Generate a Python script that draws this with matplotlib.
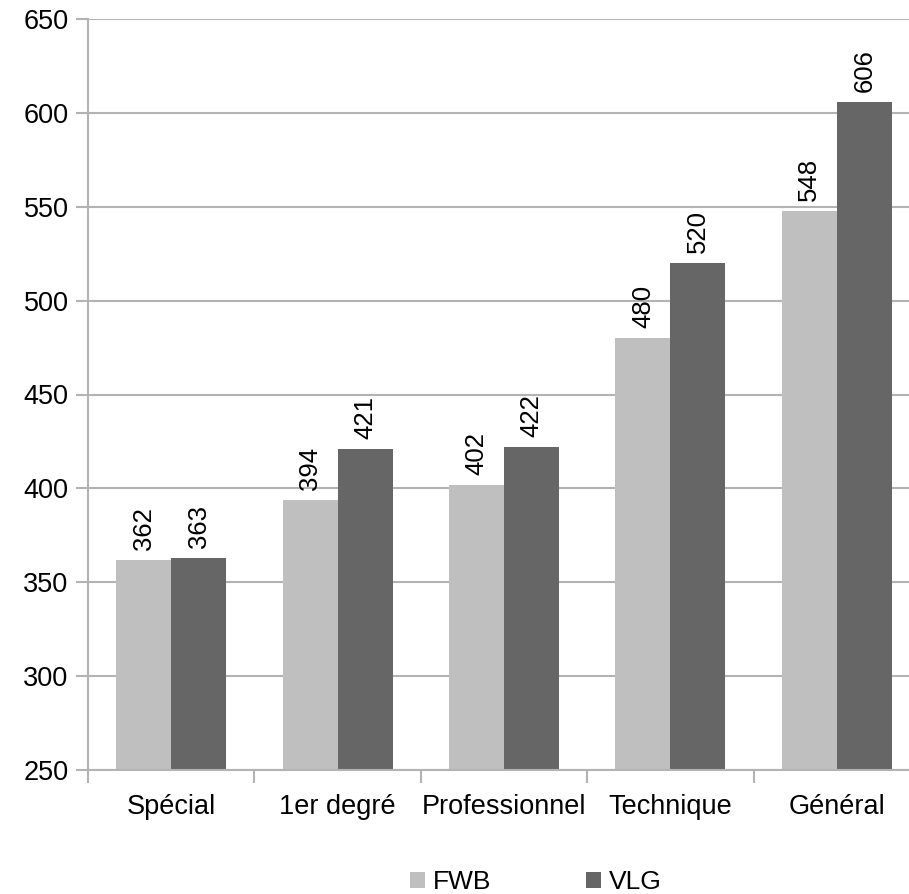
import numpy as np
import matplotlib.pyplot as plt

plt.rcParams['font.family'] = ['Liberation Sans', 'DejaVu Sans']

categories = ['Spécial', '1er degré', 'Professionnel', 'Technique', 'Général']
fwb = [362, 394, 402, 480, 548]
vlg = [363, 421, 422, 520, 606]
yticks = [250, 300, 350, 400, 450, 500, 550, 600, 650]

grid_col = '#b3b3b3'
fig = plt.figure(figsize=(9.09, 8.94), dpi=100)
ax = fig.add_axes([88 / 909, 124 / 894, 832 / 909, 751 / 894])

x = np.arange(len(categories)) + 0.5
w = 0.33
b1 = ax.bar(x - w / 2, [v - 250 for v in fwb], w, bottom=250, color='#bfbfbf', label='FWB', zorder=2)
b2 = ax.bar(x + w / 2, [v - 250 for v in vlg], w, bottom=250, color='#666666', label='VLG', zorder=2)

for xs, vals in ((x - w / 2, fwb), (x + w / 2, vlg)):
    for xi, v in zip(xs, vals):
        ax.annotate(str(v), (xi, v), xytext=(0, 7), textcoords='offset points',
                    rotation=90, ha='center', va='bottom', fontsize=18.5)

ax.set_xlim(0, len(categories))
ax.set_ylim(250, 650)
ax.set_yticks(yticks)
ax.tick_params(axis='y', labelsize=19.5, length=9, width=1.5, color=grid_col, pad=5)
ax.yaxis.grid(True, color=grid_col, linewidth=1.5, zorder=0)
ax.set_axisbelow(True)

# category ticks sit between groups, labels centred underneath
ax.set_xticks(np.arange(len(categories) + 1))
ax.set_xticklabels([])
ax.set_xticks(x, minor=True)
ax.set_xticklabels(categories, minor=True, fontsize=19.5)
ax.tick_params(axis='x', which='major', length=9, width=1.5, color=grid_col)
ax.tick_params(axis='x', which='minor', length=0, pad=17)

for s in ('top', 'right'):
    ax.spines[s].set_visible(False)
for s in ('left', 'bottom'):
    ax.spines[s].set_color(grid_col)
    ax.spines[s].set_linewidth(1.5)

fig.legend(handles=[b1, b2], loc='center', bbox_to_anchor=(536 / 909, 1 - 882 / 894),
           ncol=2, frameon=False, fontsize=19, handlelength=0.55, handleheight=0.55,
           handletextpad=0.3, columnspacing=3.6)

fig.savefig('out.png', dpi=100)
